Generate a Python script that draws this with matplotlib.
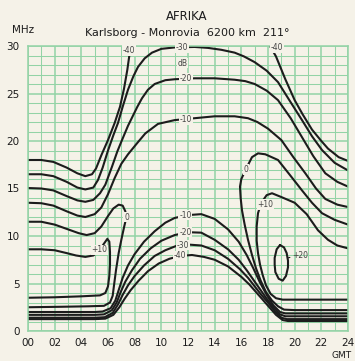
import matplotlib
matplotlib.use('Agg')
import matplotlib.pyplot as plt
from matplotlib.ticker import MultipleLocator

# --- contour lines: (hour GMT, MHz) ---
# upper family (MUF side), dB levels -40 .. -10
upper_m40_left = [(0, 18.0), (1.0, 18.0), (1.9, 17.8), (2.9, 17.2), (3.7, 16.6), (4.3, 16.3),
                  (4.8, 16.5), (5.1, 17.1), (5.5, 18.5), (6.0, 20.1), (6.5, 21.9), (6.9, 23.6),
                  (7.2, 25.5), (7.45, 27.5), (7.6, 29.0)]
upper_m40_right = [(18.15, 30.0), (18.6, 28.9), (19.3, 26.5), (20.0, 24.3), (20.6, 22.8),
                   (21.3, 21.2), (22.0, 20.0), (22.5, 19.2), (23.3, 18.3), (24.0, 17.9)]
upper_m30 = [(0, 16.5), (1.0, 16.5), (1.9, 16.3), (2.9, 15.7), (3.7, 15.1), (4.3, 14.9),
             (4.9, 15.1), (5.25, 15.9), (5.6, 17.2), (6.0, 19.0), (6.4, 20.6), (6.75, 21.9),
             (7.1, 23.6), (7.5, 25.4), (7.9, 26.8), (8.25, 27.8), (8.75, 28.7), (9.3, 29.3),
             (10.0, 29.7), (11.0, 29.85), (12.5, 29.9), (13.5, 29.8), (14.5, 29.6), (15.5, 29.3),
             (16.2, 28.9), (17.0, 28.3), (17.9, 27.4), (18.75, 26.2), (19.6, 24.3), (20.55, 22.2),
             (21.3, 20.5), (22.05, 19.05), (23.0, 17.7), (24.0, 16.9)]
upper_m20 = [(0, 15.05), (1.0, 15.0), (1.9, 14.8), (2.9, 14.2), (3.7, 13.75), (4.3, 13.6),
             (4.9, 13.8), (5.4, 14.5), (5.8, 15.4), (6.3, 17.3), (6.7, 18.9), (7.05, 20.1),
             (7.5, 21.6), (8.2, 23.6), (8.55, 24.5), (9.0, 25.4), (9.5, 26.0), (10.3, 26.4),
             (11.0, 26.5), (12.5, 26.6), (14.0, 26.6), (15.5, 26.45), (16.3, 26.3), (17.0, 26.0),
             (17.9, 25.3), (18.75, 24.3), (19.7, 22.4), (20.55, 20.4), (21.4, 18.4), (22.3, 16.6),
             (23.2, 15.7), (24.0, 15.2)]
upper_m10 = [(0, 13.5), (1.0, 13.45), (1.9, 13.2), (2.9, 12.6), (3.7, 12.15), (4.3, 12.0),
             (5.0, 12.3), (5.5, 13.0), (6.0, 14.4), (6.5, 16.1), (7.0, 17.6), (7.5, 18.6),
             (8.2, 19.8), (8.8, 20.8), (9.75, 21.8), (11.0, 22.2), (12.5, 22.4), (14.0, 22.6),
             (15.5, 22.6), (16.5, 22.4), (17.2, 22.0), (18.0, 21.3), (19.0, 20.1), (19.9, 18.3),
             (20.8, 16.6), (21.6, 15.0), (22.3, 13.9), (23.2, 13.3), (24.0, 13.05)]

# 0 dB and +10 dB pockets, night side left and right
zero_left = [(0, 11.5), (1.0, 11.5), (2.0, 11.2), (3.0, 10.7), (3.8, 10.3), (4.4, 10.1),
             (5.0, 10.3), (5.5, 11.0), (6.0, 12.1), (6.4, 12.9), (6.8, 13.3), (7.1, 13.2),
             (7.3, 12.6), (7.35, 11.8), (7.2, 10.9), (7.0, 9.6), (6.8, 8.2), (6.6, 6.4),
             (6.45, 4.8), (6.35, 3.7), (6.15, 3.0), (5.7, 2.65), (4.5, 2.6), (2.5, 2.55), (0, 2.5)]
plus10_left = [(0, 8.6), (1.0, 8.6), (2.0, 8.5), (2.9, 8.2), (3.6, 7.95), (4.3, 7.8),
               (4.9, 7.95), (5.3, 8.4), (5.7, 9.2), (5.95, 9.7), (6.1, 9.4), (6.15, 8.3),
               (6.15, 7.0), (6.1, 5.8), (6.0, 4.7), (5.8, 4.0), (5.4, 3.75), (4.0, 3.65),
               (2.0, 3.55), (0, 3.5)]
zero_right = [(24.0, 11.2), (23.0, 11.7), (22.05, 12.4), (21.3, 13.5), (20.55, 14.8),
              (19.6, 16.5), (18.75, 18.0), (17.8, 18.6), (17.25, 18.7), (16.8, 18.3),
              (16.4, 17.2), (16.0, 16.0), (15.9, 15.2), (15.95, 14.0), (16.05, 12.7),
              (16.25, 11.2), (16.5, 9.6), (16.8, 8.0), (17.1, 6.6), (17.45, 5.3), (17.85, 4.1),
              (18.3, 3.2), (18.75, 2.6), (19.2, 2.25), (20.0, 2.2), (24.0, 2.2)]
plus10_right = [(24.0, 8.7), (23.2, 9.0), (22.5, 9.6), (21.75, 10.6), (20.9, 12.3),
                (20.0, 13.5), (19.0, 14.1), (18.3, 14.5), (17.9, 14.3), (17.5, 13.5),
                (17.25, 12.4), (17.15, 11.0), (17.15, 9.5), (17.25, 8.2), (17.4, 7.0),
                (17.6, 5.9), (17.85, 4.8), (18.2, 3.9), (18.6, 3.45), (19.1, 3.3), (24.0, 3.3)]
plus20_loop = [(18.9, 9.05), (19.2, 8.8), (19.4, 8.2), (19.5, 7.4), (19.5, 6.7), (19.35, 5.8),
               (19.1, 5.3), (18.8, 5.5), (18.55, 6.2), (18.5, 7.0), (18.5, 7.7), (18.65, 8.6),
               (18.9, 9.05)]

# lower family (LUF side), dB levels -10 .. -40
lower_m10 = [(0, 2.0), (3.0, 2.0), (5.0, 2.0), (5.6, 2.05), (6.2, 2.4), (6.55, 3.2), (6.8, 4.3),
             (7.1, 5.6), (7.5, 6.9), (8.0, 8.1), (8.7, 9.4), (9.5, 10.5), (10.3, 11.4),
             (11.0, 11.9), (12.0, 12.2), (13.0, 12.3), (14.0, 11.8), (15.0, 10.7), (15.8, 9.4),
             (16.4, 8.0), (16.9, 6.6), (17.4, 5.1), (17.9, 3.8), (18.4, 2.7), (18.9, 2.0),
             (19.3, 1.85), (24.0, 1.85)]
lower_m20 = [(0, 1.7), (3.0, 1.7), (5.0, 1.7), (5.7, 1.75), (6.3, 2.2), (6.65, 3.0), (6.95, 4.1),
             (7.3, 5.2), (7.8, 6.4), (8.4, 7.6), (9.2, 8.7), (10.0, 9.5), (11.0, 10.1),
             (12.0, 10.4), (13.0, 10.35), (14.0, 9.6), (15.0, 8.6), (15.8, 7.5), (16.4, 6.4),
             (16.9, 5.4), (17.4, 4.4), (17.9, 3.4), (18.4, 2.5), (18.9, 1.75), (19.3, 1.55),
             (24.0, 1.55)]
lower_m30 = [(0, 1.4), (3.0, 1.4), (5.0, 1.4), (5.75, 1.45), (6.35, 1.9), (6.75, 2.8), (7.1, 3.8),
             (7.5, 4.8), (8.0, 5.8), (8.7, 6.9), (9.5, 7.9), (10.3, 8.5), (11.2, 9.0),
             (12.0, 9.1), (13.0, 9.0), (14.0, 8.5), (15.0, 7.6), (15.9, 6.5), (16.5, 5.6),
             (17.0, 4.7), (17.5, 3.8), (18.0, 3.0), (18.5, 2.1), (19.0, 1.4), (19.4, 1.25),
             (24.0, 1.25)]
lower_m40 = [(0, 1.25), (3.0, 1.25), (5.0, 1.25), (5.8, 1.3), (6.4, 1.7), (6.85, 2.5), (7.25, 3.4),
             (7.7, 4.3), (8.3, 5.3), (9.0, 6.3), (9.8, 7.1), (10.6, 7.6), (11.4, 7.9),
             (12.3, 8.0), (13.2, 7.8), (14.0, 7.5), (15.0, 6.8), (16.0, 5.7), (16.6, 4.9),
             (17.1, 4.1), (17.6, 3.3), (18.1, 2.5), (18.6, 1.7), (19.1, 1.15), (19.5, 1.05),
             (24.0, 1.05)]

contours = [upper_m40_left, upper_m40_right, upper_m30, upper_m20, upper_m10,
            zero_left, plus10_left, zero_right, plus10_right, plus20_loop,
            lower_m10, lower_m20, lower_m30, lower_m40]

# level labels sitting on the lines: (text, hour, MHz)
level_labels = [('-40', 7.55, 29.55), ('-30', 11.55, 29.85), ('dB', 11.6, 28.2),
                ('-20', 11.85, 26.6), ('-10', 11.85, 22.25), ('-40', 18.7, 29.8),
                ('0', 7.4, 12.0), ('+10', 5.35, 8.55), ('0', 16.35, 17.0),
                ('+10', 17.8, 13.3), ('-10', 11.8, 12.2), ('-20', 11.8, 10.4),
                ('-30', 11.6, 9.05), ('-40', 11.4, 7.9)]

hour_ticks = list(range(0, 25, 2))
hour_labels = ['%02d' % h for h in hour_ticks]
mhz_ticks = [0, 5, 10, 15, 20, 25, 30]

paper = '#f5f2e8'
green = '#93d3a6'
ink = '#1c1c1c'

fig = plt.figure(figsize=(3.55, 3.61), dpi=100, facecolor=paper)
ax = fig.add_axes([28 / 355, 1 - 331 / 361, 320 / 355, 285 / 361])
ax.set_facecolor(paper)

ax.set_xlim(0, 24)
ax.set_ylim(0, 30)
ax.xaxis.set_minor_locator(MultipleLocator(1))
ax.yaxis.set_minor_locator(MultipleLocator(1))
ax.set_xticks(hour_ticks)
ax.set_xticklabels(hour_labels)
ax.set_yticks(mhz_ticks)
ax.grid(which='major', color=green, lw=1.1)
ax.grid(which='minor', color=green, lw=0.75)
ax.set_axisbelow(True)
ax.tick_params(which='both', length=0)
ax.tick_params(axis='x', pad=5, labelsize=7.5, colors=ink)
ax.tick_params(axis='y', pad=6, labelsize=7.5, colors=ink)
for sp in ax.spines.values():
    sp.set_color(green)
    sp.set_linewidth(1.1)

for pts in contours:
    h, f = zip(*pts)
    ax.plot(h, f, color=ink, lw=1.5, solid_capstyle='round', solid_joinstyle='round')

for txt, h, f in level_labels:
    ax.text(h, f, txt, fontsize=5.5, color='#444444', ha='center', va='center',
            bbox=dict(boxstyle='square,pad=0.1', fc=paper, ec='none'), zorder=5)

ax.annotate('+20', xy=(19.5, 7.7), xytext=(20.45, 8.0), fontsize=5.5, color='#444444',
            ha='center', va='center',
            arrowprops=dict(arrowstyle='-', color=ink, lw=0.8, shrinkA=4, shrinkB=0))

fig.text(187 / 355, 1 - 16 / 361, 'AFRIKA', ha='center', va='center', fontsize=8.5, color=ink)
fig.text(187 / 355, 1 - 33 / 361, 'Karlsborg - Monrovia  6200 km  211°', ha='center',
         va='center', fontsize=8, color=ink)
fig.text(23 / 355, 1 - 30 / 361, 'MHz', ha='center', va='center', fontsize=7.5, color=ink)
fig.text(352 / 355, 1 - 355 / 361, 'GMT', ha='right', va='center', fontsize=6.5, color=ink)

fig.savefig('out.png', dpi=100, facecolor=paper)
